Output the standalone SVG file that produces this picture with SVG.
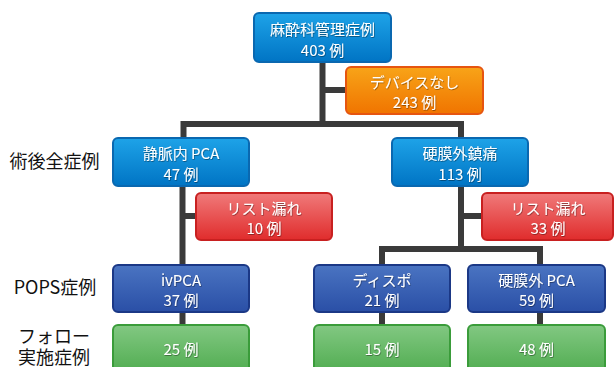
<svg xmlns="http://www.w3.org/2000/svg" width="614" height="367" viewBox="0 0 614 367">
<defs>
<linearGradient id="gBlue" x1="0" y1="0" x2="0" y2="1"><stop offset="0" stop-color="#1ea3e8"/><stop offset="1" stop-color="#0074c4"/></linearGradient>
<linearGradient id="gNavy" x1="0" y1="0" x2="0" y2="1"><stop offset="0" stop-color="#4a74c2"/><stop offset="1" stop-color="#2a4fa6"/></linearGradient>
<linearGradient id="gRed" x1="0" y1="0" x2="0" y2="1"><stop offset="0" stop-color="#f07a7a"/><stop offset="1" stop-color="#e02c2c"/></linearGradient>
<linearGradient id="gOrange" x1="0" y1="0" x2="0" y2="1"><stop offset="0" stop-color="#f8a418"/><stop offset="1" stop-color="#f07400"/></linearGradient>
<linearGradient id="gGreen" x1="0" y1="0" x2="0" y2="1"><stop offset="0" stop-color="#82c882"/><stop offset="1" stop-color="#4caa4c"/></linearGradient>
<filter id="ts" x="-10%" y="-30%" width="120%" height="160%"><feDropShadow dx="0.6" dy="0.8" stdDeviation="0.5" flood-color="#000" flood-opacity="0.45"/></filter>
</defs>
<style>
.box{stroke-width:2}
.blue{fill:url(#gBlue);stroke:#0a68b0}
.navy{fill:url(#gNavy);stroke:#1b3886}
.red{fill:url(#gRed);stroke:#c82020}
.orange{fill:url(#gOrange);stroke:#e65510}
.green{fill:url(#gGreen);stroke:#3a9c3a}
.t{font-family:"Noto Sans CJK JP","Noto Sans",sans-serif;font-size:15px;fill:#fff;text-anchor:middle;filter:url(#ts)}
.lbl{font-family:"Noto Sans CJK JP","Noto Sans",sans-serif;font-size:18px;fill:#111;text-anchor:middle}
.c{fill:none;stroke:#3a3a3a;stroke-width:6;stroke-linejoin:miter;stroke-linecap:butt}
</style>
<g id="connectors">
<path class="c" d="M322.5,62 V124"/>
<path class="c" d="M322.5,90 H347"/>
<path class="c" d="M183.5,139 V124 H461 V139"/>
<path class="c" d="M182.5,186 V266"/>
<path class="c" d="M182.5,216 H197"/>
<path class="c" d="M461,186 V249"/>
<path class="c" d="M461,216 H483"/>
<path class="c" d="M382,266 V249 H540 V266"/>
<path class="c" d="M182.5,312 V326"/>
<path class="c" d="M382,312 V326"/>
<path class="c" d="M540,312 V326"/>
</g>
<g id="label-postop"><text class="lbl" x="54.5" y="168">術後全症例</text></g>
<g id="label-pops"><text class="lbl" x="55" y="294">POPS症例</text></g>
<g id="label-follow"><text class="lbl" x="54" y="343">フォロー</text><text class="lbl" x="54" y="364">実施症例</text></g>
<g id="n-anes"><rect class="box blue" x="254" y="13" width="137" height="49" rx="5"/><text class="t" x="322.5" y="35">麻酔科管理症例</text><text class="t" x="322.5" y="56">403 例</text></g>
<g id="n-nodevice"><rect class="box orange" x="346" y="67" width="137" height="47" rx="5"/><text class="t" x="414.5" y="88">デバイスなし</text><text class="t" x="414.5" y="108">243 例</text></g>
<g id="n-iv"><rect class="box blue" x="113" y="138" width="136" height="48" rx="5"/><text class="t" x="181" y="159">静脈内 PCA</text><text class="t" x="181" y="180">47 例</text></g>
<g id="n-epi"><rect class="box blue" x="392" y="138" width="136" height="48" rx="5"/><text class="t" x="460" y="159">硬膜外鎮痛</text><text class="t" x="460" y="180">113 例</text></g>
<g id="n-miss1"><rect class="box red" x="196" y="193" width="136" height="47" rx="5"/><text class="t" x="264" y="214">リスト漏れ</text><text class="t" x="264" y="234">10 例</text></g>
<g id="n-miss2"><rect class="box red" x="482" y="193" width="131" height="47" rx="5"/><text class="t" x="548" y="214">リスト漏れ</text><text class="t" x="548" y="234">33 例</text></g>
<g id="n-ivpca"><rect class="box navy" x="113" y="265" width="136" height="47" rx="5"/><text class="t" x="181" y="286">ivPCA</text><text class="t" x="181" y="306">37 例</text></g>
<g id="n-dispo"><rect class="box navy" x="314" y="265" width="136" height="47" rx="5"/><text class="t" x="382" y="286">ディスポ</text><text class="t" x="382" y="306">21 例</text></g>
<g id="n-epipca"><rect class="box navy" x="468" y="265" width="137" height="47" rx="5"/><text class="t" x="536.5" y="286">硬膜外 PCA</text><text class="t" x="536.5" y="306">59 例</text></g>
<g id="n-f1"><rect class="box green" x="113" y="325" width="136" height="52" rx="5"/><text class="t" x="181" y="355">25 例</text></g>
<g id="n-f2"><rect class="box green" x="314" y="325" width="136" height="52" rx="5"/><text class="t" x="382" y="355">15 例</text></g>
<g id="n-f3"><rect class="box green" x="468" y="325" width="137" height="52" rx="5"/><text class="t" x="536.5" y="355">48 例</text></g>
</svg>
